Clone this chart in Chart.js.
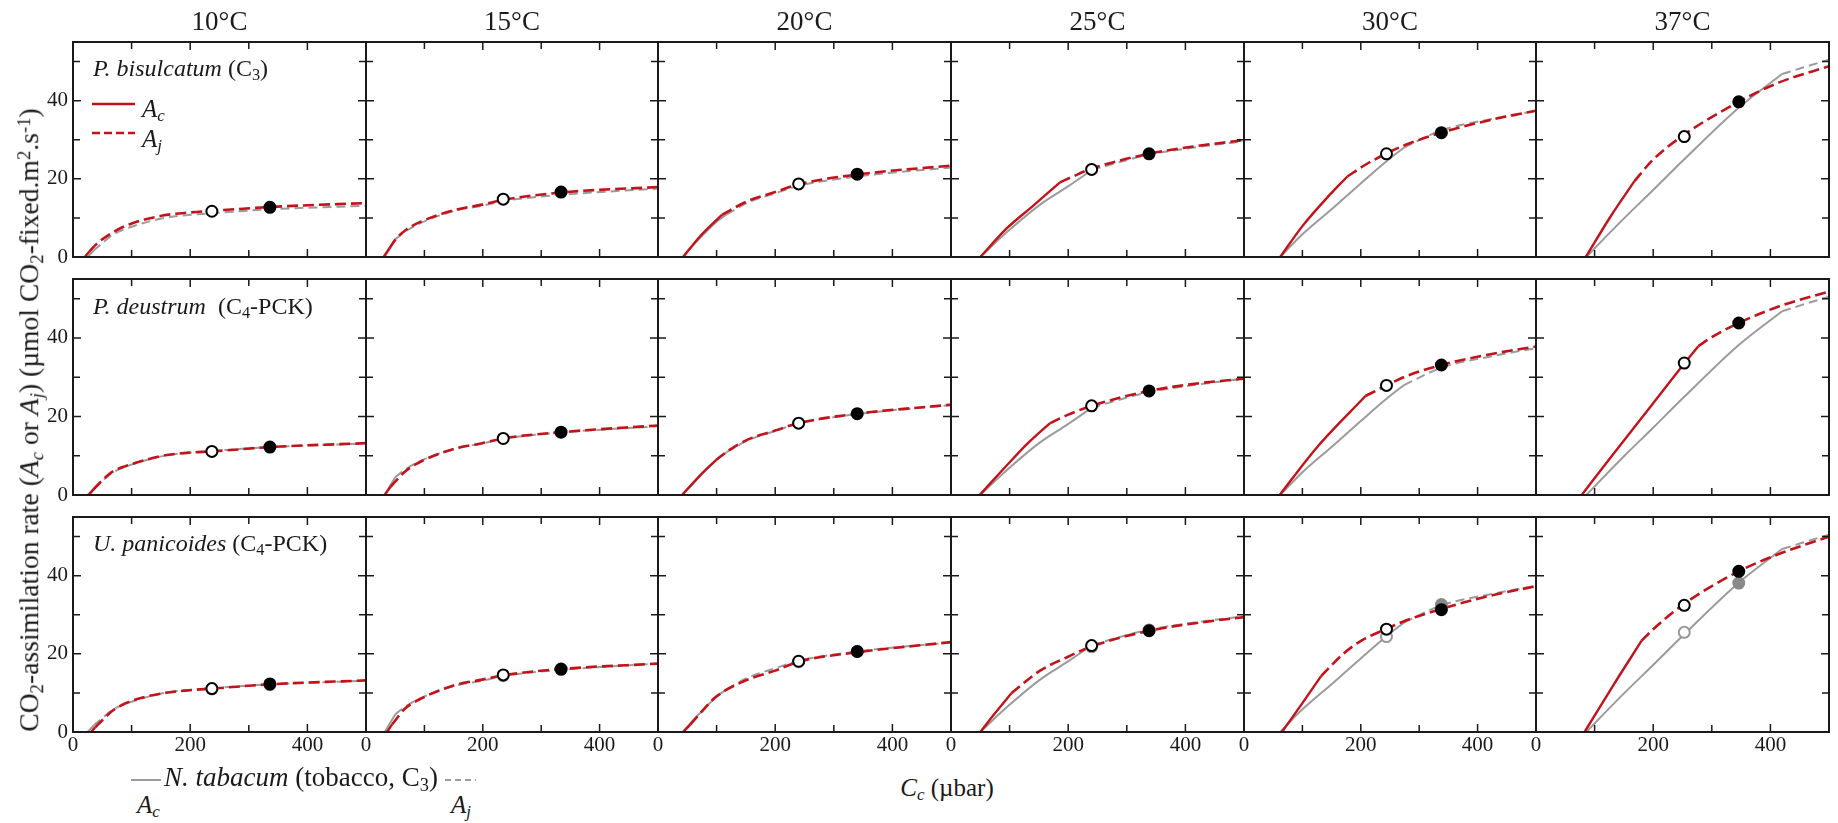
<!DOCTYPE html>
<html>
<head>
<meta charset="utf-8">
<script src="https://cdn.jsdelivr.net/npm/chart.js@4.4.1/dist/chart.umd.min.js"></script>
<style>
  body { margin: 0; background: #fff; }
  #fig { position: relative; width: 1838px; height: 823px; overflow: hidden;
         font-family: "Liberation Serif", "Times New Roman", serif; color: #1a1a1a; }
  #fig canvas { position: absolute; }
  .txt { position: absolute; white-space: nowrap; line-height: 1; }
  .temp { font-size: 27px; transform: translateX(-50%); top: 8px; }
  .species { font-size: 24px; left: 93px; }
  .sym { font-size: 25px; font-style: italic; }
  .sym sub, .species sub, .lab sub { font-size: 0.68em; vertical-align: -0.25em; line-height: 0; }
  .lab sup { font-size: 0.68em; vertical-align: 0.45em; line-height: 0; }
  #ytitle { font-size: 27.6px; left: 29px; top: 420px; transform: translate(-50%, -50%) rotate(-90deg); }
  #xtitle { font-size: 25px; left: 947px; top: 775px; transform: translateX(-50%); }
  #tobacco { font-size: 27px; left: 164px; top: 764px; }
  svg { position: absolute; left: 0; top: 0; }
</style>
</head>
<body>
<div id="fig">
  <div class="txt species" style="top:56px"><i>P. bisulcatum</i> (C<sub>3</sub>)</div>
  <div class="txt species" style="top:294px"><i>P. deustrum</i>&nbsp; (C<sub>4</sub>-PCK)</div>
  <div class="txt species" style="top:531px"><i>U. panicoides</i> (C<sub>4</sub>-PCK)</div>
  <div class="txt sym" style="left:142px;top:96px">A<sub>c</sub></div>
  <div class="txt sym" style="left:142px;top:126px">A<sub>j</sub></div>
  <div class="txt sym" style="left:137px;top:792px">A<sub>c</sub></div>
  <div class="txt sym" style="left:451px;top:792px">A<sub>j</sub></div>
  <div class="txt lab" id="ytitle">CO<sub>2</sub>-assimilation rate (<i>A<sub>c</sub></i> or <i>A<sub>j</sub></i>) (µmol CO<sub>2</sub>-fixed.m<sup>2</sup>.s<sup>-1</sup>)</div>
  <div class="txt lab" id="xtitle"><i>C<sub>c</sub></i> (µbar)</div>
  <div class="txt lab" id="tobacco"><i>N. tabacum</i> (tobacco, C<sub>3</sub>)</div>
  <svg width="1838" height="823">
    <line x1="92" y1="104" x2="135" y2="104" stroke="#c4121a" stroke-width="2.5"/>
    <line x1="92" y1="133" x2="135" y2="133" stroke="#c4121a" stroke-width="2.5" stroke-dasharray="8 4"/>
    <line x1="131" y1="780" x2="161" y2="780" stroke="#9b9b9b" stroke-width="2"/>
    <line x1="445" y1="780" x2="476" y2="780" stroke="#9b9b9b" stroke-width="2" stroke-dasharray="6 4"/>
  </svg>
</div>
<script>
const temperatures = ["10°C", "15°C", "20°C", "25°C", "30°C", "37°C"];
const xTickValues = [0, 100, 200, 300, 400, 500];
const xLabelValues = [0, 200, 400];
const yTickValues = [0, 10, 20, 30, 40, 50];
const yLabelValues = [0, 20, 40];

// N. tabacum (grey), one curve per temperature, [Cc, A]
const tabacumAc = [
  [[25, 0], [35, 1.6]],
  [[32, 0], [50, 4.5]],
  [[42, 0], [70, 4.6], [99, 8.9], [117, 10.9]],
  [[50, 0], [95, 6.3], [152, 13.4], [199, 18.0], [240, 22.2]],
  [[62, 0], [100, 5.8], [152, 12.5], [199, 18.7], [244, 24.5], [274, 28.0]],
  [[86, 0], [100, 2.2], [151, 10.0], [199, 17.0], [253, 25.0], [346, 38.2], [420, 46.8]],
];
const tabacumAj = [
  [[35, 1.6], [50, 3.6], [68, 5.7], [97, 7.6], [153, 9.9], [200, 10.8], [237, 11.2], [336, 12.2], [500, 13.1]],
  [[50, 4.5], [67, 6.5], [95, 8.8], [152, 11.8], [199, 13.1], [235, 14.3], [334, 15.9], [500, 17.5]],
  [[117, 10.9], [153, 13.9], [200, 16.3], [240, 18.2], [340, 20.6], [500, 22.9]],
  [[240, 22.2], [267, 23.4], [338, 26.2], [420, 28.1], [500, 29.6]],
  [[274, 28.0], [338, 32.4], [420, 35.2], [500, 37.4]],
  [[420, 46.8], [454, 48.4], [500, 50.5]],
];
const tabacumOpen = [[237, 11.0], [235, 14.4], [240, 18.0], [240, 21.8], [244, 24.4], [253, 25.5]];
const tabacumFilled = [[336, 12.1], [334, 16.0], [340, 20.6], [338, 26.1], [338, 32.6], [346, 38.1]];

// P. bisulcatum (C3)
const bisulcatumAc = [
  [[20, 0], [28, 1.4]],
  [[30, 0], [40, 2.2]],
  [[43, 0], [70, 5.0], [109, 10.8]],
  [[50, 0], [95, 7.3], [140, 13.1], [186, 19.1]],
  [[62, 0], [100, 7.9], [140, 14.8], [177, 20.6]],
  [[85, 0], [127, 10.3], [168, 19.4]],
];
const bisulcatumAj = [
  [[28, 1.4], [40, 3.3], [68, 6.3], [97, 8.4], [153, 10.6], [200, 11.4], [237, 11.8], [336, 12.8], [500, 13.8]],
  [[40, 2.2], [50, 4.4], [67, 6.8], [95, 9.1], [152, 12.0], [199, 13.4], [235, 14.6], [334, 16.5], [500, 17.9]],
  [[109, 10.8], [153, 14.3], [200, 16.6], [240, 18.6], [340, 21.1], [500, 23.4]],
  [[186, 19.1], [208, 20.6], [240, 22.6], [338, 26.4], [420, 28.4], [500, 29.9]],
  [[177, 20.6], [208, 23.6], [244, 26.5], [277, 28.7], [338, 31.8], [420, 35.0], [500, 37.4]],
  [[168, 19.4], [199, 24.8], [253, 31.3], [346, 39.7], [414, 44.6], [500, 48.8]],
];
const bisulcatumOpen = [[237, 11.7], [235, 14.8], [240, 18.7], [240, 22.4], [244, 26.4], [253, 30.8]];
const bisulcatumFilled = [[336, 12.7], [334, 16.6], [340, 21.2], [338, 26.4], [338, 31.8], [346, 39.7]];

// P. deustrum (C4-PCK)
const deustrumAc = [
  [[27, 0], [35, 1.4]],
  [[32, 0], [42, 2.1]],
  [[41, 0], [70, 4.7], [99, 8.9]],
  [[49, 0], [95, 7.5], [130, 13.0], [169, 18.3]],
  [[61, 0], [123, 11.8], [208, 25.2]],
  [[78, 0], [123, 8.7], [199, 23.2], [253, 33.5], [277, 37.9]],
];
const deustrumAj = [
  [[35, 1.4], [45, 3.0], [68, 6.0], [97, 7.7], [153, 10.0], [200, 10.8], [237, 11.1], [336, 12.2], [500, 13.2]],
  [[42, 2.1], [67, 6.0], [95, 8.6], [152, 11.8], [199, 13.2], [235, 14.4], [334, 16.0], [500, 17.7]],
  [[99, 8.9], [120, 11.3], [153, 14.1], [200, 16.4], [240, 18.3], [340, 20.7], [500, 23.0]],
  [[169, 18.3], [199, 20.4], [240, 22.7], [338, 26.5], [420, 28.4], [500, 29.6]],
  [[208, 25.2], [244, 27.9], [277, 30.2], [338, 33.1], [420, 35.8], [500, 37.8]],
  [[277, 37.9], [300, 40.2], [346, 43.8], [414, 48.0], [500, 51.8]],
];
const deustrumOpen = [[237, 11.1], [235, 14.4], [240, 18.3], [240, 22.7], [244, 27.9], [253, 33.6]];
const deustrumFilled = [[336, 12.2], [334, 16.0], [340, 20.7], [338, 26.5], [338, 33.1], [346, 43.8]];

// U. panicoides (C4-PCK)
const panicoidesAc = [
  [[31, 0], [38, 1.2]],
  [[36, 0], [45, 2.0]],
  [[43, 0], [55, 1.9]],
  [[50, 0], [75, 4.8], [103, 9.9]],
  [[65, 0], [100, 7.4], [132, 14.3]],
  [[83, 0], [130, 11.5], [180, 23.3]],
];
const panicoidesAj = [
  [[38, 1.2], [50, 3.0], [68, 5.5], [97, 7.8], [153, 9.9], [200, 10.7], [237, 11.1], [336, 12.2], [500, 13.2]],
  [[45, 2.0], [67, 6.0], [95, 8.6], [152, 12.0], [199, 13.4], [235, 14.5], [334, 16.1], [500, 17.5]],
  [[55, 1.9], [68, 4.1], [99, 9.0], [153, 13.4], [200, 15.7], [240, 18.0], [340, 20.4], [500, 23.0]],
  [[103, 9.9], [152, 15.7], [199, 19.2], [240, 21.9], [338, 25.9], [420, 27.9], [500, 29.4]],
  [[132, 14.3], [170, 20.0], [199, 23.2], [244, 26.4], [277, 28.5], [338, 31.5], [420, 34.8], [500, 37.3]],
  [[180, 23.3], [200, 26.3], [253, 32.8], [346, 41.1], [414, 45.5], [500, 50.0]],
];
const panicoidesOpen = [[237, 11.1], [235, 14.6], [240, 18.1], [240, 22.1], [244, 26.3], [253, 32.4]];
const panicoidesFilled = [[336, 12.3], [334, 16.1], [340, 20.6], [338, 25.9], [338, 31.3], [346, 41.1]];

const RED = "#c4121a";
const GREY = "#9b9b9b";
const FONT = '"Liberation Serif", "Times New Roman", serif';

const rows = [
  { ac: bisulcatumAc, aj: bisulcatumAj, open: bisulcatumOpen, filled: bisulcatumFilled, tobaccoPoints: false },
  { ac: deustrumAc, aj: deustrumAj, open: deustrumOpen, filled: deustrumFilled, tobaccoPoints: false },
  { ac: panicoidesAc, aj: panicoidesAj, open: panicoidesOpen, filled: panicoidesFilled, tobaccoPoints: true },
];

// panel boxes in page pixels
const colEdges = [73, 366, 658, 951, 1244, 1536, 1829];
const rowTops = [42, 279, 517];
const rowBottoms = [257, 495, 732];
const AXIS_L = 45, AXIS_B = 32, PAD_T = 22, PAD_R = 22;

const pts = (a) => a.map(([x, y]) => ({ x, y }));

function line(data, color, width, dash) {
  return {
    data: pts(data), borderColor: color, borderWidth: width, borderDash: dash,
    pointRadius: 0, fill: false, cubicInterpolationMode: "monotone",
  };
}
function marker(p, fillColor, edgeColor) {
  return {
    data: pts([p]), showLine: false, pointRadius: 5.5, pointBorderWidth: 2,
    pointBackgroundColor: fillColor, pointBorderColor: edgeColor,
  };
}

// box + inward ticks on all four sides
const frame = {
  id: "frame",
  afterDraw(chart) {
    const { ctx, chartArea: a, scales: { x, y } } = chart;
    ctx.save();
    ctx.strokeStyle = "#1a1a1a";
    ctx.lineWidth = 1.5;
    ctx.beginPath();
    xTickValues.forEach((v) => {
      if (v === 0 || v === 500) return;
      const px = x.getPixelForValue(v);
      const len = xLabelValues.includes(v) ? 8 : 7;
      ctx.moveTo(px, a.bottom); ctx.lineTo(px, a.bottom - len);
      ctx.moveTo(px, a.top); ctx.lineTo(px, a.top + len);
    });
    yTickValues.forEach((v) => {
      if (v === 0) return;
      const py = y.getPixelForValue(v);
      const len = yLabelValues.includes(v) ? 8 : 7;
      ctx.moveTo(a.left, py); ctx.lineTo(a.left + len, py);
      ctx.moveTo(a.right, py); ctx.lineTo(a.right - len, py);
    });
    ctx.stroke();
    ctx.lineWidth = 2;
    ctx.strokeRect(a.left, a.top, a.width, a.height);
    ctx.restore();
  },
};

const fig = document.getElementById("fig");

temperatures.forEach((t, c) => {
  const d = document.createElement("div");
  d.className = "txt temp";
  d.style.left = (colEdges[c] + colEdges[c + 1]) / 2 + "px";
  d.textContent = t;
  fig.appendChild(d);
});

rows.forEach((row, r) => {
  temperatures.forEach((t, c) => {
    const w = colEdges[c + 1] - colEdges[c];
    const h = rowBottoms[r] - rowTops[r];
    const cv = document.createElement("canvas");
    cv.width = AXIS_L + w + PAD_R;
    cv.height = PAD_T + h + AXIS_B;
    cv.style.left = colEdges[c] - AXIS_L + "px";
    cv.style.top = rowTops[r] - PAD_T + "px";
    fig.insertBefore(cv, fig.firstChild);

    const datasets = [marker(row.filled[c], "#000", "#000"), marker(row.open[c], "#fff", "#000")];
    if (row.tobaccoPoints) {
      datasets.push(marker(tabacumFilled[c], "#8a8a8a", "#8a8a8a"), marker(tabacumOpen[c], "#fff", "#999"));
    }
    datasets.push(
      line(row.aj[c], RED, 2.6, [11, 5]),
      line(row.ac[c], RED, 2.4, []),
      line(tabacumAj[c], GREY, 2, [9, 5]),
      line(tabacumAc[c], GREY, 2, [])
    );

    new Chart(cv, {
      type: "line",
      data: { datasets },
      options: {
        responsive: false,
        animation: false,
        layout: { padding: { top: PAD_T, right: PAD_R, left: 0, bottom: 0 } },
        plugins: { legend: { display: false }, tooltip: { enabled: false } },
        scales: {
          x: {
            type: "linear", min: 0, max: 500,
            grid: { display: false, drawTicks: false }, border: { display: false },
            afterBuildTicks: (s) => { s.ticks = xTickValues.map((v) => ({ value: v })); },
            afterFit: (s) => { s.height = AXIS_B; },
            ticks: {
              display: r === 2, autoSkip: false, maxRotation: 0, padding: 1, color: "#1a1a1a",
              font: { family: FONT, size: 21 },
              callback: (v) => (xLabelValues.includes(v) ? String(v) : ""),
            },
          },
          y: {
            type: "linear", min: 0, max: 55,
            grid: { display: false, drawTicks: false }, border: { display: false },
            afterBuildTicks: (s) => { s.ticks = yTickValues.map((v) => ({ value: v })); },
            afterFit: (s) => { s.width = AXIS_L; },
            ticks: {
              display: c === 0, autoSkip: false, padding: 5, color: "#1a1a1a",
              font: { family: FONT, size: 21 },
              callback: (v) => (yLabelValues.includes(v) ? String(v) : ""),
            },
          },
        },
      },
      plugins: [frame],
    });
  });
});
</script>
</body>
</html>
